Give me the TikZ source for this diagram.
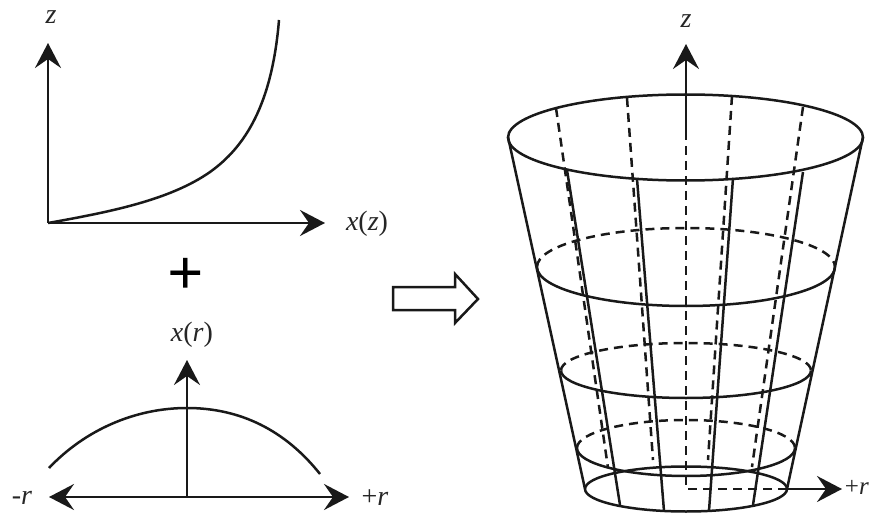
\documentclass[tikz,border=0pt]{standalone}
\usepackage{fontspec}
\setmainfont{Liberation Serif}
\usetikzlibrary{arrows.meta}
\newcommand{\vv}[1]{\textit{#1}}
\tikzset{
  ink/.style={line width=2.5pt,black!90},
  axisline/.style={ink,-{Stealth[length=25pt,width=26pt,inset=9pt]}},
  backline/.style={ink,dash pattern=on 9pt off 6pt},
  lab/.style={font=\fontsize{28}{30}\selectfont,text=black!85,inner sep=0pt},
}
\begin{document}
\begin{tikzpicture}[x=1pt,y=-1pt]
\useasboundingbox (0,0) rectangle (870,513);
\clip (0,0) rectangle (870,513);
% top-left graph
\coordinate (o1) at (48,223);
\coordinate (zt) at (48,43);
\coordinate (xt) at (325,223);
\draw[axisline] (o1) -- (zt);
\draw[axisline] (o1) -- (xt);
\draw[ink] (o1) .. controls (110,212) and (170,200) .. (210,172) .. controls (245,147) and (272,105) .. (279,20);
\node[lab] (lz) at (51,17) {\vv{z}};
\node[lab] (lxz) at (367,224) {\vv{x}(\vv{z})};
% plus
\node[inner sep=0pt,font=\fontsize{64}{64}\selectfont\bfseries] (plus) at (186,276) {+};
% bottom-left graph
\coordinate (o2) at (187,497);
\coordinate (vt) at (187,360);
\coordinate (lt) at (49,497);
\coordinate (rt) at (349,497);
\draw[axisline] (o2) -- (vt);
\draw[axisline] (o2) -- (lt);
\draw[axisline] (o2) -- (rt);
\draw[ink] (49,468) .. controls (85,430) and (135,408) .. (187,408) .. controls (240,408) and (285,430) .. (320,474);
\node[lab] (lxr) at (192,335) {\vv{x}(\vv{r})};
\node[lab] (lmr) at (22,498) {-\vv{r}};
\node[lab] (lpr) at (375,498) {+\vv{r}};
% hollow arrow
\draw[ink,line join=miter] (393,287) -- (455,287) -- (455,274) -- (478,299) -- (455,323) -- (455,310) -- (393,310) -- cycle;
% back meridians
\draw[backline] (556,108) -- (608,468);
\draw[backline] (627,98) -- (653,460);
\draw[backline] (732,96) -- (708,460);
\draw[backline] (803,107) -- (752,467);
% centre axis
\coordinate (ztop) at (686,44);
\coordinate (rtip) at (842,489);
\coordinate (c) at (686,489);
\coordinate (e) at (787,489);
\draw[axisline] (686,131) -- (ztop);
\draw[backline] (686,131) -- (c) -- (e);
\draw[axisline] (e) -- (rtip);
\node[lab] (lz2) at (686,21) {\vv{z}};
\node[lab,anchor=east,font=\fontsize{25}{27}\selectfont] (lpr2) at (869,487) {+\vv{r}};
% rings
\draw[ink] (685.5,137.5) ellipse [x radius=177.5pt,y radius=43pt];
\draw[ink] (585,489) arc [start angle=180,end angle=-180,x radius=101pt,y radius=22.5pt];
\draw[backline] (537,267) arc [start angle=180,end angle=0,x radius=149pt,y radius=39pt];
\draw[ink] (537,267) arc [start angle=180,end angle=360,x radius=149pt,y radius=39pt];
\draw[backline] (561,370.5) arc [start angle=180,end angle=0,x radius=125pt,y radius=27.5pt];
\draw[ink] (561,370.5) arc [start angle=180,end angle=360,x radius=125pt,y radius=27.5pt];
\draw[backline] (577,448) arc [start angle=180,end angle=0,x radius=109pt,y radius=28pt];
\draw[ink] (577,448) arc [start angle=180,end angle=360,x radius=109pt,y radius=28pt];
% silhouette and front meridians
\draw[ink] (508,137) -- (585,489);
\draw[ink] (863,137) -- (787,489);
\draw[ink] (567,170) -- (620,505);
\draw[ink] (637,179) -- (664,511);
\draw[ink] (733,178) -- (709,511);
\draw[ink] (803,172) -- (753,505);
\end{tikzpicture}
\end{document}
